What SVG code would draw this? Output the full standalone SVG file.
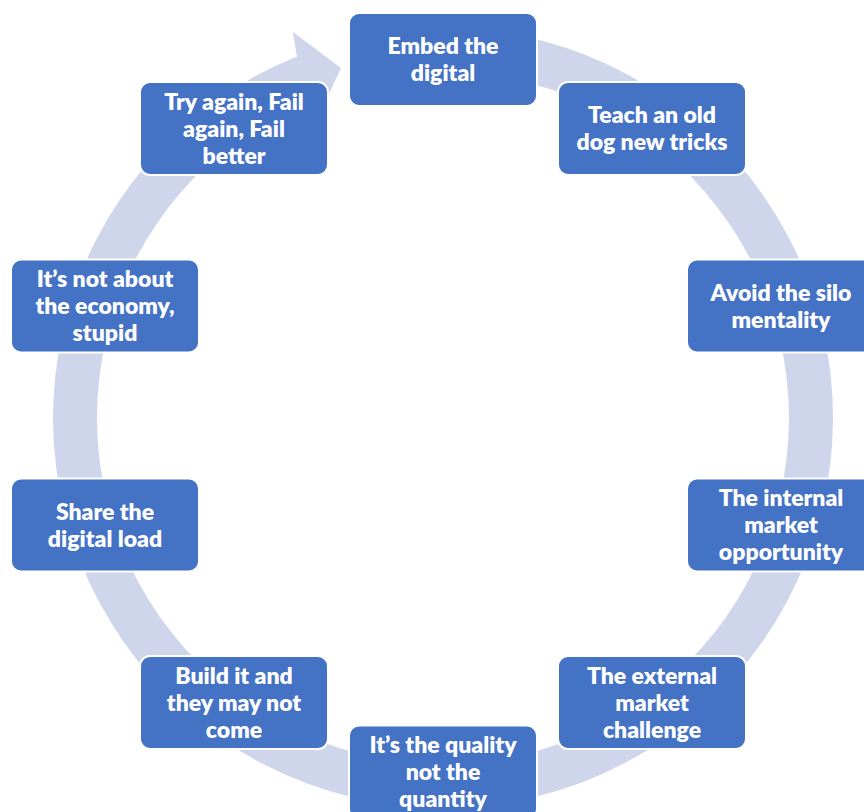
<svg xmlns="http://www.w3.org/2000/svg" width="864" height="812" viewBox="0 0 864 812">
<style>
.node rect{fill:#4472C4;stroke:#FFFFFF;stroke-width:2}
.node text{fill:#FFFFFF;font-family:Lato,"Liberation Sans",sans-serif;font-weight:800;font-size:23px;text-anchor:middle}
.ring{fill:#CFD5EA}
</style>
<rect width="864" height="812" fill="#FFFFFF"/>
<g id="connectors">
<path class="ring" d="M497.3,31.8 A390,390 0 1 1 296.9,56.4 L293,32 L341,68 L316,122 L313.4,97.2 A346,346 0 1 0 491.2,75.4 Z"/>
</g>
<g id="n1" class="node"><rect x="349" y="13" width="188" height="93" rx="10"/><text x="443" y="54">Embed the</text><text x="443" y="81">digital</text></g>
<g id="n2" class="node"><rect x="558" y="82" width="188" height="93" rx="10"/><text x="652" y="123">Teach an old</text><text x="652" y="150">dog new tricks</text></g>
<g id="n3" class="node"><rect x="687" y="259.5" width="188" height="93" rx="10"/><text x="781" y="300.5">Avoid the silo</text><text x="781" y="327.5">mentality</text></g>
<g id="n4" class="node"><rect x="687" y="478.5" width="188" height="93" rx="10"/><text x="781" y="506">The internal</text><text x="781" y="533">market</text><text x="781" y="560">opportunity</text></g>
<g id="n5" class="node"><rect x="558" y="656" width="188" height="93" rx="10"/><text x="652" y="683.5">The external</text><text x="652" y="710.5">market</text><text x="652" y="737.5">challenge</text></g>
<g id="n6" class="node"><rect x="349" y="725.5" width="188" height="93" rx="10"/><text x="443" y="753">It’s the quality</text><text x="443" y="780">not the</text><text x="443" y="807">quantity</text></g>
<g id="n7" class="node"><rect x="140" y="656" width="188" height="93" rx="10"/><text x="234" y="683.5">Build it and</text><text x="234" y="710.5">they may not</text><text x="234" y="737.5">come</text></g>
<g id="n8" class="node"><rect x="11" y="478.5" width="188" height="93" rx="10"/><text x="105" y="519.5">Share the</text><text x="105" y="546.5">digital load</text></g>
<g id="n9" class="node"><rect x="11" y="259.5" width="188" height="93" rx="10"/><text x="105" y="287">It’s not about</text><text x="105" y="314">the economy,</text><text x="105" y="341">stupid</text></g>
<g id="n10" class="node"><rect x="140" y="82" width="188" height="93" rx="10"/><text x="234" y="109.5">Try again, Fail</text><text x="234" y="136.5">again, Fail</text><text x="234" y="163.5">better</text></g>
</svg>
